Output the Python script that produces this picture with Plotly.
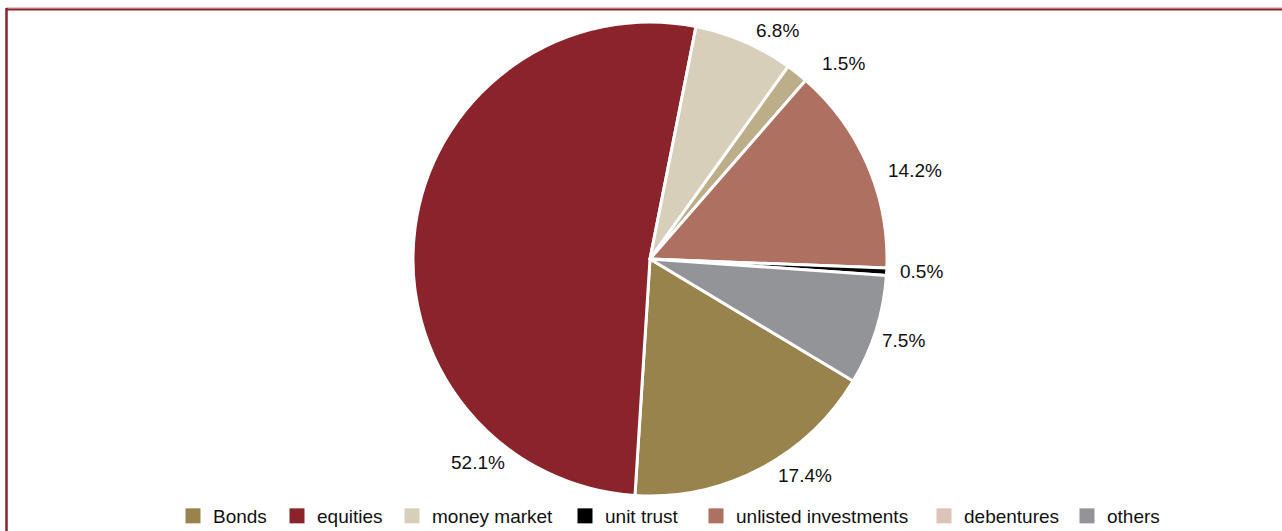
import plotly.graph_objects as go

# Slice data (in drawing order, clockwise)
slice_labels = ["Bonds", "equities", "money market", "debentures", "unlisted investments", "unit trust", "others"]
slice_values = [17.4, 52.1, 6.8, 1.5, 14.2, 0.5, 7.5]
slice_colors = ["#98834C", "#8B242A", "#D8CFBA", "#BCAE88", "#AE7060", "#000000", "#939498"]

# Legend entries (as shown in the reference legend)
legend_labels = ["Bonds", "equities", "money market", "unit trust", "unlisted investments", "debentures", "others"]
legend_colors = ["#98834C", "#8B242A", "#D8CFBA", "#000000", "#AE7060", "#DDC3B8", "#939498"]

# Layout positions (pixels): data-label centres and legend square left edges
label_px = [(805, 475), (478, 462), (777, 30), (843, 63), (915, 170), (921, 271), (903, 340)]
legend_px = [187, 291, 406, 579, 710, 938, 1081]

W, H = 1282, 531
cx, cy, R = 650, 259, 237
FONT = "Liberation Sans, Arial, sans-serif"

fig = go.Figure()
fig.add_trace(go.Pie(
    labels=slice_labels,
    values=slice_values,
    sort=False,
    direction="clockwise",
    rotation=121,
    marker=dict(colors=slice_colors, line=dict(color="white", width=3)),
    textinfo="none",
    showlegend=False,
    hoverinfo="label+percent",
    domain=dict(x=[(cx - R) / W, (cx + R) / W], y=[1 - (cy + R) / H, 1 - (cy - R) / H]),
))

annotations = []
for v, (px, py) in zip(slice_values, label_px):
    annotations.append(dict(
        x=px / W, y=1 - py / H, xref="paper", yref="paper", showarrow=False,
        text=f"{v:.1f}%", xanchor="center", yanchor="middle",
        font=dict(size=19, color="#111111", family=FONT),
    ))

legend_layouts = {}
for i, (lab, col, lx) in enumerate(zip(legend_labels, legend_colors, legend_px)):
    key = "legend" if i == 0 else f"legend{i + 1}"
    fig.add_trace(go.Scatter(
        x=[None], y=[None], mode="markers", name=lab, legend=key,
        marker=dict(symbol="square", size=15, color=col),
    ))
    legend_layouts[key] = dict(
        x=(lx - 14) / W, xanchor="left", y=1 - 516 / H, yanchor="middle",
        orientation="h", font=dict(size=19, color="#111111", family=FONT),
        bgcolor="rgba(0,0,0,0)", itemwidth=30,
    )

fig.update_layout(
    width=W, height=H,
    margin=dict(l=0, r=0, t=0, b=0, autoexpand=False),
    paper_bgcolor="white", plot_bgcolor="white",
    font=dict(family=FONT, size=19, color="#111111"),
    xaxis=dict(visible=False), yaxis=dict(visible=False),
    annotations=annotations,
    shapes=[
        dict(type="line", xref="paper", yref="paper", x0=6 / W, x1=1, y0=1 - 8 / H, y1=1 - 8 / H,
             line=dict(color="#C98E92", width=1)),
        dict(type="line", xref="paper", yref="paper", x0=6 / W, x1=1, y0=1 - 9.5 / H, y1=1 - 9.5 / H,
             line=dict(color="#8B242A", width=2)),
        dict(type="line", xref="paper", yref="paper", x0=6.5 / W, x1=6.5 / W, y0=0, y1=1 - 8 / H,
             line=dict(color="#8B242A", width=2.5)),
    ],
    **legend_layouts,
)

fig.write_html("out.html", config={"displayModeBar": False},
               post_script="document.body.style.margin='0';")
